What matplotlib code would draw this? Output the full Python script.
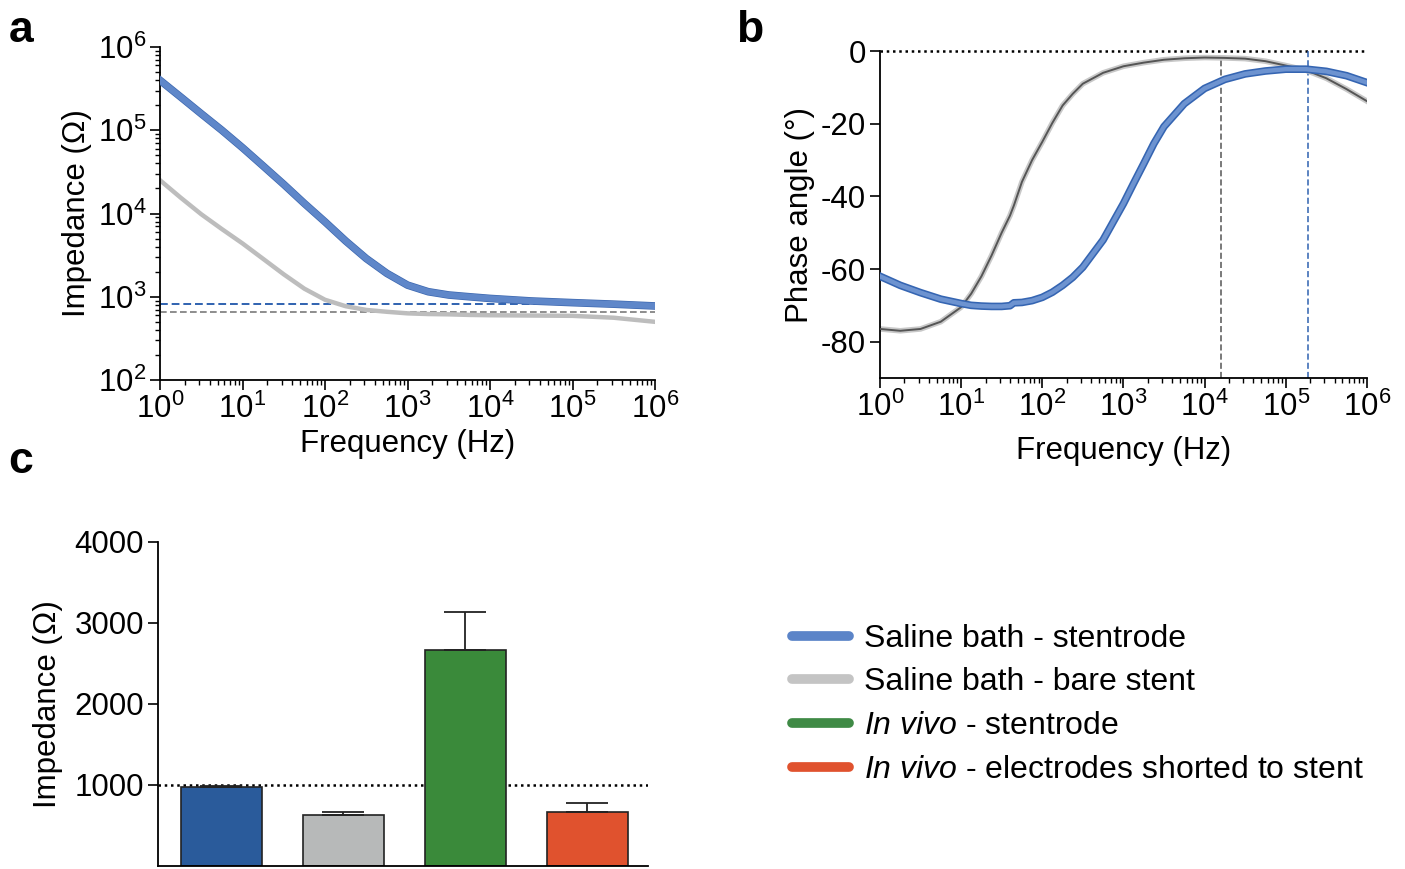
import numpy as np
import matplotlib
matplotlib.use("Agg")
import matplotlib.pyplot as plt
from matplotlib.lines import Line2D
import matplotlib.patheffects as pe
from matplotlib.ticker import LogLocator, NullFormatter

plt.rcParams['font.family'] = ['Liberation Sans', 'DejaVu Sans']
plt.rcParams['mathtext.fontset'] = 'custom'
plt.rcParams['mathtext.rm'] = 'Liberation Sans'
plt.rcParams['mathtext.it'] = 'Liberation Sans:italic'
plt.rcParams['axes.linewidth'] = 1.3
plt.rcParams['axes.unicode_minus'] = False

# ---------------- data ----------------
# panel a: impedance magnitude vs frequency
freq_a = [1, 1.78, 3.16, 5.62, 10, 17.8, 31.6, 56.2, 100, 178, 316, 562,
          1000, 1780, 3160, 5620, 10000, 31600, 100000, 316000, 1000000]
z_stentrode = [398000, 251000, 158000, 100000, 61700, 37200, 22400, 13200, 7940,
               4680, 2880, 1910, 1380, 1150, 1050, 1000, 955, 890, 850, 815, 775]
z_bare = [25100, 15500, 9800, 6500, 4370, 2850, 1860, 1250, 920,
          770, 695, 660, 632, 620, 615, 605, 600, 595, 590, 560, 500]
z_ref_stentrode = 810
z_ref_bare = 660

# panel b: phase angle vs frequency
freq_b = [1, 1.78, 3.16, 5.62, 10, 13.3, 17.8, 23.7, 31.6, 40, 44.7, 56.2, 75, 100,
          133, 178, 237, 316, 562,
          1000, 1330, 1780, 2370, 3160, 5620, 10000, 17800, 31600, 56200, 100000,
          178000, 316000, 562000, 1000000]
ph_stentrode = [-62, -64.5, -66.5, -68.3, -69.5, -70.0, -70.2, -70.3, -70.3, -70.1,
                -69.3, -69.2, -68.7, -67.8, -66.4, -64.5, -62.3, -59.5, -52,
                -42, -36.5, -31, -25.5, -20.8, -14.5, -10.3, -7.8,
                -6.3, -5.5, -5.0, -5.0, -5.6, -6.8, -8.7]
ph_bare = [-76.5, -77, -76.5, -74.5, -70.5, -66.8, -62, -56.3, -50, -45.3, -42.5,
           -36, -30, -25, -19.8, -15, -11.8, -9, -6, -4.2, -3.7, -3.2, -2.8,
           -2.4, -2.0, -1.8, -1.9, -2.1, -2.8, -4.0, -5.3, -7.5, -10.5, -13.8]
f_cross_bare = 16000
f_cross_stentrode = 190000

# panel c: bar chart
bar_labels = ['Saline bath - stentrode', 'Saline bath - bare stent',
              '$\\it{In\\ vivo}$ - stentrode',
              '$\\it{In\\ vivo}$ - electrodes shorted to stent']
bar_values = [975, 632, 2665, 662]
bar_errors = [10, 30, 475, 112]
bar_colors = ['#2a5b9b', '#b7b9b9', '#3a8a3a', '#e0522e']
legend_colors = ['#5b84c8', '#c4c4c4', '#3f8a45', '#e0522e']

FS = 22.5

fig = plt.figure(figsize=(14.05, 8.69), dpi=100)

def style_log_axis(ax, axis='x'):
    a = ax.xaxis if axis == 'x' else ax.yaxis
    a.set_major_locator(LogLocator(base=10, numticks=20))
    a.set_minor_locator(LogLocator(base=10, subs=np.arange(2, 10), numticks=100))
    a.set_minor_formatter(NullFormatter())

# ---------------- panel a ----------------
axa = fig.add_axes([0.1139, 0.5627, 0.3523, 0.3832])
axa.set_xscale('log'); axa.set_yscale('log')
axa.axhline(z_ref_stentrode, color='#2f62b0', lw=1.4, ls=(0, (4, 2)), zorder=1)
axa.axhline(z_ref_bare, color='#7a7a7a', lw=1.2, ls=(0, (4, 2)), zorder=1)
axa.plot(freq_a, z_bare, color='#bdbdbd', lw=3.2, zorder=2)
axa.plot(freq_a, z_stentrode, color='#5f87c9', lw=4.5, zorder=3,
         path_effects=[pe.Stroke(linewidth=5.5, foreground='#3d68b0'), pe.Normal()])
axa.set_xlim(1, 1e6); axa.set_ylim(1e2, 1e6)
style_log_axis(axa, 'x'); style_log_axis(axa, 'y')
axa.set_xlabel('Frequency (Hz)', fontsize=FS, labelpad=3)
axa.set_ylabel('Impedance (Ω)', fontsize=FS, labelpad=4)

# ---------------- panel b ----------------
axb = fig.add_axes([0.6263, 0.565, 0.3466, 0.3763])
axb.set_xscale('log')
axb.axhline(0, color='black', lw=1.8, ls=(0, (1, 1.5)), zorder=1, clip_on=False)
axb.plot([f_cross_bare, f_cross_bare], [-90, -2], color='#555555', lw=1.1,
         ls=(0, (4, 2)), zorder=1)
axb.plot([f_cross_stentrode, f_cross_stentrode], [-90, 0], color='#2f62b0', lw=1.1,
         ls=(0, (4, 2)), zorder=1)
axb.plot(freq_b, ph_bare, color='#c8c8c8', lw=4, zorder=2)
axb.plot(freq_b, ph_bare, color='#555555', lw=1.4, zorder=3)
axb.plot(freq_b, ph_stentrode, color='#6d93d0', lw=3.2, zorder=4,
         path_effects=[pe.Stroke(linewidth=5.5, foreground='#3565b2'), pe.Normal()])
axb.set_xlim(1, 1e6); axb.set_ylim(-90, 0)
axb.set_yticks([0, -20, -40, -60, -80])
style_log_axis(axb, 'x')
axb.set_xlabel('Frequency (Hz)', fontsize=FS, labelpad=9)
axb.set_ylabel('Phase angle (°)', fontsize=FS, labelpad=4)

# ---------------- panel c ----------------
axc = fig.add_axes([0.1125, 0.0035, 0.3488, 0.3728])
xpos = np.arange(len(bar_values))
axc.axhline(1000, color='black', lw=1.8, ls=(0, (1, 1.5)), zorder=1)
axc.bar(xpos, bar_values, width=0.665, color=bar_colors, edgecolor='#222222',
        lw=1.2, zorder=2)
axc.errorbar(xpos, bar_values, yerr=[np.zeros(len(bar_errors)), bar_errors],
             fmt='none', ecolor='#222222', elinewidth=1.3, capsize=15,
             capthick=1.3, zorder=3)
axc.set_xlim(-0.52, 3.5); axc.set_ylim(0, 4000)
axc.set_yticks([1000, 2000, 3000, 4000])
axc.set_xticks([])
axc.set_ylabel('Impedance (Ω)', fontsize=FS, labelpad=8)

for ax in (axa, axb, axc):
    for s in ('top', 'right'):
        ax.spines[s].set_visible(False)
    ax.tick_params(which='major', labelsize=FS, length=7, width=1.2, direction='out',
                   pad=3)
    ax.tick_params(which='minor', length=3.5, width=1.0, direction='out')

# legend
handles = [Line2D([], [], color=c, lw=7, solid_capstyle='round') for c in legend_colors]
fig.legend(handles, bar_labels, loc='upper left', bbox_to_anchor=(0.5545, 0.297),
           frameon=False, fontsize=23, handlelength=1.8, handletextpad=0.45,
           labelspacing=0.43, borderaxespad=0)

# panel letters
fig.text(0.006, 0.988, 'a', fontsize=32, fontweight='bold', va='top')
fig.text(0.524, 0.988, 'b', fontsize=32, fontweight='bold', va='top')
fig.text(0.006, 0.492, 'c', fontsize=32, fontweight='bold', va='top')

fig.savefig('out.png', dpi=100)
